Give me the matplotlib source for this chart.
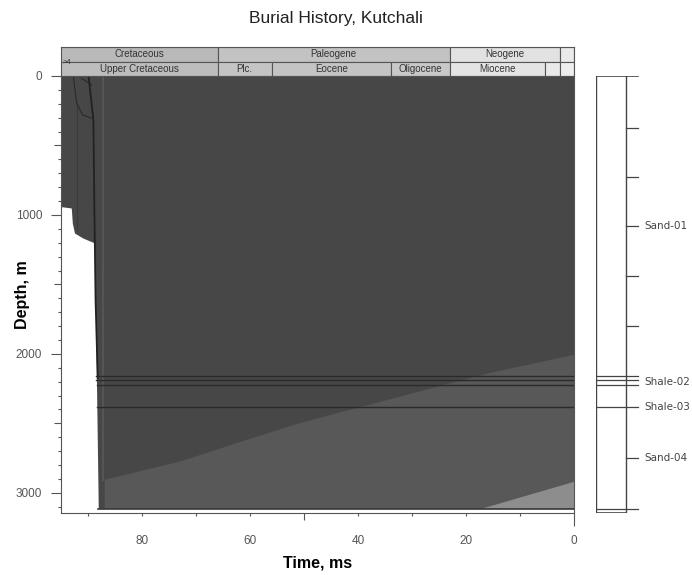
import numpy as np
import matplotlib.pyplot as plt
from matplotlib.patches import Rectangle

plt.rcParams['font.family'] = ['Liberation Sans', 'DejaVu Sans']

# time scale (Ma)
periods = ["Cretaceous", "Paleogene", "Neogene", ""]
period_old = [100.5, 66.0, 23.03, 2.58]
period_young = [66.0, 23.03, 2.58, 0.0]
period_fill = ["#b9b9b9", "#c3c3c3", "#e2e2e2", "#eaeaea"]

epochs = ["Upper Cretaceous", "Plc.", "Eocene", "Oligocene", "Miocene", "", ""]
epoch_old = [100.5, 66.0, 56.0, 33.9, 23.03, 5.33, 2.58]
epoch_young = [66.0, 56.0, 33.9, 23.03, 5.33, 2.58, 0.0]
epoch_fill = ["#bdbdbd", "#c4c4c4", "#c4c4c4", "#c8c8c8", "#e4e4e4", "#e9e9e9", "#eeeeee"]

# base of the section through time
base_age = [95.0, 93.1, 92.9, 92.5, 91.0, 89.5, 88.8, 88.1, 0.0]
base_depth = [940, 950, 1060, 1130, 1165, 1190, 1200, 3113, 3113]

# formation tops (m)
tops_depth = [2156, 2187, 2223, 2379]

# shallow horizons during early burial
early_a_age = [92.7, 92.1, 91.0, 89.3]
early_a_depth = [9, 196, 280, 304]
early_b_age = [91.2, 89.3]
early_b_depth = [17, 65]
early_c_age = [89.9, 89.0, 88.8, 88.6, 88.2]
early_c_depth = [0, 316, 1012, 1612, 2173]

# maturity zone boundaries
zone1_age = [86.9, 73.0, 60.6, 50.7, 15.6, 0.0]
zone1_depth = [2906, 2775, 2619, 2497, 2137, 2007]
zone2_age = [17.0, 0.0]
zone2_depth = [3113, 2921]

# well column
formations = ["Sand-01", "Shale-02", "Shale-03", "Sand-04"]
formation_label_depth = [1078, 2200, 2379, 2746]
column_lines = [2156, 2187, 2223, 2379, 3113]
column_ticks = [372, 724, 1079, 1439, 1799, 2746]

W, H = 692, 575
fig = plt.figure(figsize=(W / 100, H / 100), dpi=100)

def px_box(x0, y0, x1, y1):
    return [x0 / W, 1 - y1 / H, (x1 - x0) / W, (y1 - y0) / H]

ax = fig.add_axes(px_box(61, 76, 574, 513))
hdr = fig.add_axes(px_box(61, 47, 574, 76))
col = fig.add_axes(px_box(596, 76, 640, 513))

t_max, d_max = 95.0, 3145
grey = "#555555"

# burial history
ax.fill_between(base_age, 0, base_depth, color="#474747", lw=0)
ax.fill(zone1_age + [0.0, zone1_age[0]], zone1_depth + [base_depth[-1], base_depth[-1]],
        color="#585858", lw=0)
ax.fill(zone2_age + [0.0], zone2_depth + [base_depth[-1]], color="#8d8d8d", lw=0)
ax.plot([87.2, 87.2], [0, zone1_depth[0]], color="#565656", lw=1.4)
ax.plot([92.1, 92.1], [196, 1110], color="#3a3a3a", lw=0.8)

ax.plot(early_a_age, early_a_depth, color="#2a2a2a", lw=0.8)
ax.plot(early_b_age, early_b_depth, color="#2a2a2a", lw=0.8)
ax.plot(early_c_age, early_c_depth, color="#222222", lw=1.3)

for d in tops_depth:
    start = np.interp(d, [base_depth[6], base_depth[7]], [base_age[6], base_age[7]])
    ax.plot([start, 0], [d, d], color="#2a2a2a", lw=1.0)
ax.plot([base_age[7], 0], [base_depth[-1], base_depth[-1]], color="#3a3a3a", lw=1.2)

ax.set_xlim(t_max, 0)
ax.set_ylim(d_max, 0)

ax.spines["top"].set_visible(False)
for s in ["left", "bottom", "right"]:
    ax.spines[s].set_color(grey)

depth_ticks = np.arange(0, 3101, 100)
ax.set_yticks(depth_ticks)
ax.set_yticklabels([str(v) if v % 1000 == 0 else "" for v in depth_ticks])
ax.tick_params(axis="y", length=7, pad=6.5, color=grey, labelcolor=grey, labelsize=8.5)
for v, tick in zip(depth_ticks, ax.yaxis.get_major_ticks()):
    tick.tick1line.set_markersize(7 if v % 1000 == 0 else 5 if v % 500 == 0 else 2)

time_ticks = np.arange(90, -1, -10)
ax.set_xticks(time_ticks)
ax.set_xticklabels([str(v) if v % 20 == 0 else "" for v in time_ticks])
ax.tick_params(axis="x", length=2, pad=14, color=grey, labelcolor=grey, labelsize=8.5)
for v, tick in zip(time_ticks, ax.xaxis.get_major_ticks()):
    tick.tick1line.set_markersize(9 if v == 0 else 5 if v == 50 else 2)

ax.set_xlabel("Time, ms", fontsize=11.5, fontweight="bold", labelpad=6)
ax.set_ylabel("Depth, m", fontsize=11.5, fontweight="bold")
ax.yaxis.set_label_coords(-0.06, 0.5)

# time scale header
for row, names, old, young, fills in [(1, periods, period_old, period_young, period_fill),
                                      (0, epochs, epoch_old, epoch_young, epoch_fill)]:
    for name, a, b, fc in zip(names, old, young, fills):
        hdr.add_patch(Rectangle((b, row), a - b, 1, facecolor=fc, edgecolor=grey, lw=0.8))
        hdr.text((min(a, t_max) + b) / 2, row + 0.5, name, ha="center", va="center",
                 fontsize=7, color="#333333")
hdr.text(t_max - 0.3, 0.95, ">4", ha="left", va="center", fontsize=5.5, color="#333333")
hdr.set_xlim(t_max, 0)
hdr.set_ylim(0, 2)
hdr.set_xticks([])
hdr.set_yticks([])
for s in hdr.spines.values():
    s.set_color(grey)
    s.set_linewidth(0.8)

# well column
lc = "#444444"
col.plot([0, 0], [0, d_max], color=lc, lw=1)
col.plot([0.682, 0.682], [0, d_max], color=lc, lw=1)
col.plot([0, 0.955], [0, 0], color=lc, lw=1.2)
col.plot([0, 0.682], [d_max, d_max], color=lc, lw=1.2)
for d in column_lines:
    col.plot([0, 0.955], [d, d], color=lc, lw=0.9)
for d in column_ticks:
    col.plot([0.682, 0.955], [d, d], color=lc, lw=0.9)
for name, d in zip(formations, formation_label_depth):
    col.text(1.1, d, name, ha="left", va="center", fontsize=7.5, color="#444444",
             family=["DejaVu Sans"], clip_on=False)
col.set_xlim(0, 1)
col.set_ylim(d_max, 0)
col.axis("off")

fig.text(0.485, 1 - 18 / H, "Burial History, Kutchali", ha="center", va="center",
         fontsize=12.5, color="#222222")

fig.savefig("out.png", dpi=100)
